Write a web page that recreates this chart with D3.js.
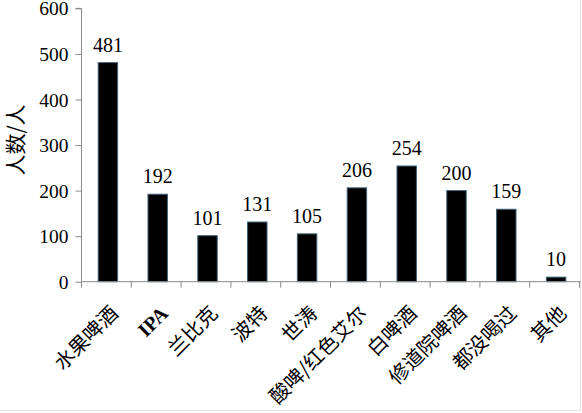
<!DOCTYPE html>
<html><head><meta charset="utf-8">
<script src="https://cdn.jsdelivr.net/npm/d3@7"></script>
<style>html,body{margin:0;padding:0;background:#fff;}svg{display:block;}
.serif{font-family:"Liberation Serif","Times New Roman",serif;}
.cjk{font-family:"Noto Sans CJK SC","Noto Sans CJK JP",sans-serif;}
</style>
</head><body>
<svg id="chart" width="582" height="413"></svg>
<script>
const categories = ["水果啤酒","IPA","兰比克","波特","世涛","酸啤/红色艾尔","白啤酒","修道院啤酒","都没喝过","其他"];
const values = [481,192,101,131,105,206,254,200,159,10];
const yTicks = [0,100,200,300,400,500,600];
const yLabel = "人数/人";

const svg = d3.select("#chart");
const mLeft = 81.5, mRight = 579.5, mTop = 8.4, mBottom = 281.7;

const x = d3.scaleBand().domain(categories).range([mLeft, mRight]).padding(0);
const y = d3.scaleLinear().domain([0,600]).range([mBottom, mTop]);

// faint frame lines
svg.append("line").attr("x1",580.5).attr("x2",580.5).attr("y1",0).attr("y2",410.5).attr("stroke","#e2e2e2");
svg.append("line").attr("x1",0).attr("x2",581).attr("y1",410.5).attr("y2",410.5).attr("stroke","#e2e2e2");

// y axis (lines via d3.axis, labels drawn as serif text)
const yAxis = svg.append("g").attr("transform",`translate(${mLeft},0)`)
  .call(d3.axisLeft(y).tickValues(yTicks).tickSize(6).tickFormat(""));
yAxis.select(".domain").attr("stroke","#8a8a8a").attr("d",`M-6,${y(600)}H0V${mBottom}`);
yAxis.selectAll(".tick line").attr("stroke","#8a8a8a");
yAxis.selectAll(".tick text").remove();
svg.append("g").selectAll("text").data(yTicks).join("text")
  .attr("class","serif")
  .attr("x",mLeft-13).attr("y",d=>y(d)).attr("dy","0.36em")
  .attr("text-anchor","end").attr("font-size",19.5).attr("fill","#000")
  .text(d=>d3.format("d")(d));

// bars
const bw = x.bandwidth()*0.39;
svg.append("g").selectAll("rect").data(values).join("rect")
  .attr("x",(d,i)=>x(categories[i]) + x.bandwidth()/2 - bw/2 + 1.5)
  .attr("y",d=>y(d))
  .attr("width",bw)
  .attr("height",d=>mBottom - y(d))
  .attr("fill","#000")
  .attr("stroke","#3d6072").attr("stroke-width",1);

// value labels
svg.append("g").selectAll("text").data(values).join("text")
  .attr("class","serif")
  .attr("x",(d,i)=>x(categories[i]) + x.bandwidth()/2 + 1.5)
  .attr("y",d=>y(d) - 11)
  .attr("text-anchor","middle")
  .attr("font-size",20).attr("fill","#000")
  .text(d=>d);

// x axis
const xg = svg.append("g");
xg.append("line").attr("x1",mLeft).attr("x2",mRight+1).attr("y1",mBottom).attr("y2",mBottom).attr("stroke","#8a8a8a");
const bounds = categories.map(c=>x(c)).concat([mRight]);
xg.selectAll("line.tk").data(bounds).join("line").attr("class","tk")
  .attr("x1",d=>d).attr("x2",d=>d).attr("y1",mBottom).attr("y2",mBottom+6).attr("stroke","#8a8a8a");

xg.selectAll("text").data(categories).join("text")
  .attr("class",c=>/^[A-Za-z]+$/.test(c)?"serif":"cjk")
  .attr("transform",c=>`translate(${x(c)+x.bandwidth()/2+13},${mBottom+33}) rotate(-45)`)
  .attr("text-anchor","end")
  .attr("font-weight",c=>/^[A-Za-z]+$/.test(c)?"bold":"normal")
  .attr("font-size",20).attr("fill","#000")
  .text(c=>c);

// y label
svg.append("text").attr("class","cjk").attr("transform",`translate(23,140) rotate(-90)`)
  .attr("text-anchor","middle").attr("font-size",21).attr("fill","#000")
  .text(yLabel);
</script>
</body></html>
